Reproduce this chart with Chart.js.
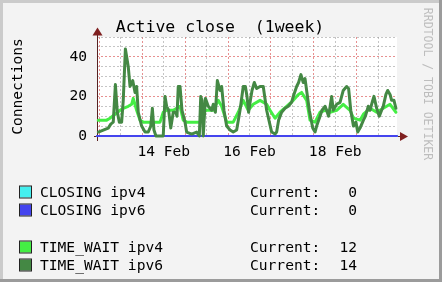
<!DOCTYPE html>
<html>
<head>
<meta charset="utf-8">
<script src="https://cdn.jsdelivr.net/npm/chart.js@4/dist/chart.umd.min.js"></script>
<style>
  html, body { margin: 0; padding: 0; background: #f3f3f3; }
  #wrap { width: 442px; height: 282px; }
</style>
</head>
<body>
<div id="wrap"><canvas id="c" width="442" height="282"></canvas></div>
<script>
// hours since the left edge of the graph (one week = 168 h)
const closingHours = [0, 168];
const closingIpv4 = [0, 0];
const closingIpv6 = [0, 0];

const timeWait4Hours = [0.7, 5.4, 7.3, 10.1, 12.9, 14.7, 17.5, 19.4, 20.3, 22.2, 24.1, 25.9, 35.3, 37.1, 39.0,
  42.7, 46.5, 48.3, 50.2, 57.7, 59.5, 61.4, 65.1, 67.9, 69.8, 72.6, 76.3, 79.1, 81.9, 84.7, 87.5, 91.3, 95.0,
  96.9, 99.7, 102.5, 106.2, 109.9, 112.8, 114.6, 117.4, 119.3, 122.1, 124.9, 127.7, 130.5, 134.2, 137.9,
  141.7, 143.6, 147.3, 149.2, 152.9, 156.6, 160.3, 164.1, 167.4];
const timeWait4 = [8, 8, 9, 11, 13, 14, 15, 16, 19, 13, 8, 7, 7, 12, 13,
  13, 15, 8, 7, 7, 12, 13, 13, 18, 15, 7, 7, 12, 18, 13, 16, 18, 16,
  13, 9, 12, 15, 18, 21, 22, 18, 8, 7, 12, 13, 12, 13, 16,
  13, 9, 8, 11, 14, 12, 14, 16, 12];

const timeWait6Hours = [0.75, 3.5, 6.3, 7.7, 9.1, 10.3, 11.4, 12.5, 13.8, 14.7, 15.9, 17.5, 18.5, 20.0, 21.3,
  22.2, 23.1, 25.0, 26.9, 28.7, 30.1, 31.0, 31.9, 33.0, 37.1, 38.1, 39.0, 40.1, 41.3, 42.7, 44.1, 44.8,
  45.5, 46.5, 47.6, 49.3, 50.2, 53.0, 55.8, 57.3, 58.1, 58.8, 59.5, 60.7, 62.3, 64.2, 65.1, 66.3, 67.4,
  68.9, 69.8, 71.1, 72.6, 74.5, 76.3, 78.2, 80.1, 81.9, 83.1, 84.0, 84.9, 85.9, 86.8, 88.1, 89.4, 91.3,
  93.1, 95.0, 97.8, 99.7, 100.6, 101.7, 103.4, 105.3, 107.1, 109.0, 109.9, 111.8, 112.9, 114.2, 115.5,
  116.5, 117.4, 118.9, 120.8, 122.1, 123.0, 124.9, 126.0, 127.7, 128.6, 129.7, 131.4, 132.3, 134.2,
  136.1, 137.9, 139.8, 140.9, 142.1, 143.6, 145.0, 146.0, 147.3, 149.2, 150.3, 151.9, 152.9, 154.4,
  155.1, 156.6, 158.1, 159.4, 160.3, 161.8, 162.8, 164.1, 165.0, 166.3, 167.4];
const timeWait6 = [2, 3, 4, 6, 7, 26, 12, 7, 7, 18, 44, 35, 25, 28, 22,
  25, 12, 5, 2, 2, 5, 14, 3, 0, 0, 20, 15, 13, 4, 12, 12, 10,
  25, 25, 13, 7, 2, 1, 2, 0, 20, 18, 0, 19, 15, 13, 16, 12, 28,
  23, 25, 13, 5, 3, 2, 3, 13, 25, 25, 20, 12, 18, 23, 27, 24, 25,
  25, 13, 2, 1, 2, 8, 12, 14, 15, 17, 20, 25, 27, 31, 27,
  29, 23, 13, 4, 2, 5, 10, 13, 15, 13, 10, 20, 13, 16,
  17, 23, 25, 24, 13, 5, 7, 2, 4, 8, 10, 15, 13, 18,
  20, 14, 10, 13, 15, 21, 23, 21, 18, 18, 14];

// grid every 12 h, first midnight (13 Feb 00:00) at 1.4 h
const gridHours = [1.4, 13.4, 25.4, 37.4, 49.4, 61.4, 73.4, 85.4, 97.4, 109.4, 121.4, 133.4, 145.4, 157.4];
const midnightHours = [1.4, 25.4, 49.4, 73.4, 97.4, 121.4, 145.4];
const xLabelHours = [37.4, 85.4, 133.4];
const xLabels = ['14 Feb', '16 Feb', '18 Feb'];
const yGrid = [0, 5, 10, 15, 20, 25, 30, 35, 40, 45, 50];
const yMajor = [20, 40];

const seriesNames = ['CLOSING ipv4', 'CLOSING ipv6', 'TIME_WAIT ipv4', 'TIME_WAIT ipv6'];
const seriesColors = ['#44eeee', '#4444ee', '#44ee44', '#448844'];

const FONT = 'DejaVu Sans Mono';
Chart.defaults.font.family = FONT;
Chart.defaults.font.size = 14.6;
Chart.defaults.color = '#000';

const pts = (hs, vs) => hs.map((h, i) => ({ x: h, y: vs[i] }));

const MINOR = 'rgba(150,150,150,0.55)';
const MAJOR = 'rgba(215,70,70,0.6)';

const rrdLook = {
  id: 'rrdLook',
  beforeDraw(chart) {
    const ctx = chart.ctx, a = chart.chartArea;
    ctx.save();
    ctx.fillStyle = '#f3f3f3';
    ctx.fillRect(0, 0, 442, 282);
    ctx.fillStyle = '#cbcbcb';
    ctx.fillRect(0, 0, 442, 3);
    ctx.fillRect(0, 0, 3, 282);
    ctx.fillStyle = '#9b9b9b';
    ctx.fillRect(439, 0, 3, 282);
    ctx.fillRect(0, 279, 442, 3);
    ctx.fillStyle = '#ffffff';
    ctx.fillRect(a.left, a.top, a.right - a.left, a.bottom - a.top);
    ctx.restore();
  },
  beforeDatasetsDraw(chart) {
    const ctx = chart.ctx, a = chart.chartArea;
    const y0 = chart.scales.y.getPixelForValue(0);
    ctx.save();
    ctx.strokeStyle = '#5a2020';
    ctx.lineWidth = 1;
    ctx.beginPath();
    ctx.moveTo(a.left + 0.5, 34);
    ctx.lineTo(a.left + 0.5, y0 + 5);
    ctx.moveTo(a.left - 3, y0 + 0.5);
    ctx.lineTo(a.right + 4, y0 + 0.5);
    ctx.stroke();
    ctx.fillStyle = '#7f1f1f';
    ctx.beginPath();
    ctx.moveTo(a.left + 0.5, 27.5);
    ctx.lineTo(a.left - 4.5, 35.5);
    ctx.lineTo(a.left + 5.5, 35.5);
    ctx.closePath();
    ctx.fill();
    ctx.beginPath();
    ctx.moveTo(a.right + 11, y0 + 0.5);
    ctx.lineTo(a.right + 3, y0 - 4);
    ctx.lineTo(a.right + 3, y0 + 5);
    ctx.closePath();
    ctx.fill();
    ctx.restore();
  },
  afterDraw(chart) {
    const ctx = chart.ctx;
    ctx.save();
    ctx.fillStyle = '#000';
    ctx.textBaseline = 'alphabetic';
    ctx.textAlign = 'center';
    ctx.font = '16.5px "' + FONT + '"';
    ctx.fillText('Active close  (1week)', 220, 32);

    ctx.font = '14.6px "' + FONT + '"';
    ctx.save();
    ctx.translate(21.5, 86.5);
    ctx.rotate(-Math.PI / 2);
    ctx.fillText('Connections', 0, 0);
    ctx.restore();

    ctx.save();
    ctx.fillStyle = '#bdbdbd';
    ctx.font = '11.5px "' + FONT + '"';
    ctx.translate(424, 84);
    ctx.rotate(Math.PI / 2);
    ctx.fillText('RRDTOOL / TOBI OETIKER', 0, 0);
    ctx.restore();

    // legend
    const rows = [197, 215, 252, 270];
    const current = [closingIpv4, closingIpv6, timeWait4, timeWait6].map(v => v[v.length - 1]);
    ctx.font = '14.6px "' + FONT + '"';
    seriesNames.forEach((name, i) => {
      const by = rows[i] - 10.5;
      ctx.fillStyle = seriesColors[i];
      ctx.fillRect(20, by, 11, 11);
      ctx.strokeStyle = '#222';
      ctx.lineWidth = 1;
      ctx.strokeRect(19.5, by - 0.5, 12, 12);
      ctx.fillStyle = '#000';
      ctx.textAlign = 'left';
      ctx.fillText(name, 40, rows[i]);
      ctx.fillText('Current:', 250, rows[i]);
      ctx.textAlign = 'right';
      ctx.fillText(String(current[i]), 357, rows[i]);
    });
    ctx.restore();
  }
};

const datasets = [
  { data: pts(closingHours, closingIpv4), order: 3 },
  { data: pts(closingHours, closingIpv6), order: 2 },
  { data: pts(timeWait4Hours, timeWait4), order: 1 },
  { data: pts(timeWait6Hours, timeWait6), order: 0 }
].map((d, i) => Object.assign(d, {
  label: seriesNames[i],
  borderColor: seriesColors[i],
  borderWidth: i >= 2 ? 3 : 2.2,
  borderJoinStyle: 'round',
  borderCapStyle: 'round',
  pointRadius: 0,
  tension: 0,
  fill: false,
  clip: 4
}));

new Chart(document.getElementById('c'), {
  type: 'line',
  data: { datasets },
  plugins: [rrdLook],
  options: {
    responsive: false,
    animation: false,
    events: [],
    layout: { padding: { top: 37, right: 45, left: 0, bottom: 0 } },
    plugins: { legend: { display: false }, tooltip: { enabled: false } },
    scales: {
      x: {
        type: 'linear',
        min: 0,
        max: 168,
        afterFit: s => { s.height = 146; },
        afterBuildTicks: s => { s.ticks = gridHours.map(v => ({ value: v })); },
        border: { display: false, dash: [2, 2] },
        grid: {
          drawTicks: false,
          lineWidth: 1,
          color: c => midnightHours.includes(c.tick.value) ? MAJOR : MINOR
        },
        ticks: {
          padding: 7,
          maxRotation: 0,
          autoSkip: false,
          color: '#000',
          callback: v => {
            const k = xLabelHours.indexOf(v);
            return k >= 0 ? xLabels[k] : '';
          }
        }
      },
      y: {
        type: 'linear',
        min: 0,
        max: 50,
        afterFit: s => { s.width = 97; },
        afterBuildTicks: s => { s.ticks = yGrid.map(v => ({ value: v })); },
        border: { display: false, dash: [2, 2] },
        grid: {
          drawTicks: false,
          lineWidth: 1,
          color: c => c.tick.value === 0 ? 'rgba(0,0,0,0)' : (yMajor.includes(c.tick.value) ? MAJOR : MINOR)
        },
        ticks: {
          autoSkip: false,
          padding: 10,
          color: '#000',
          callback: v => (v % 20 === 0 ? String(v) : '')
        }
      }
    }
  }
});
</script>
</body>
</html>
